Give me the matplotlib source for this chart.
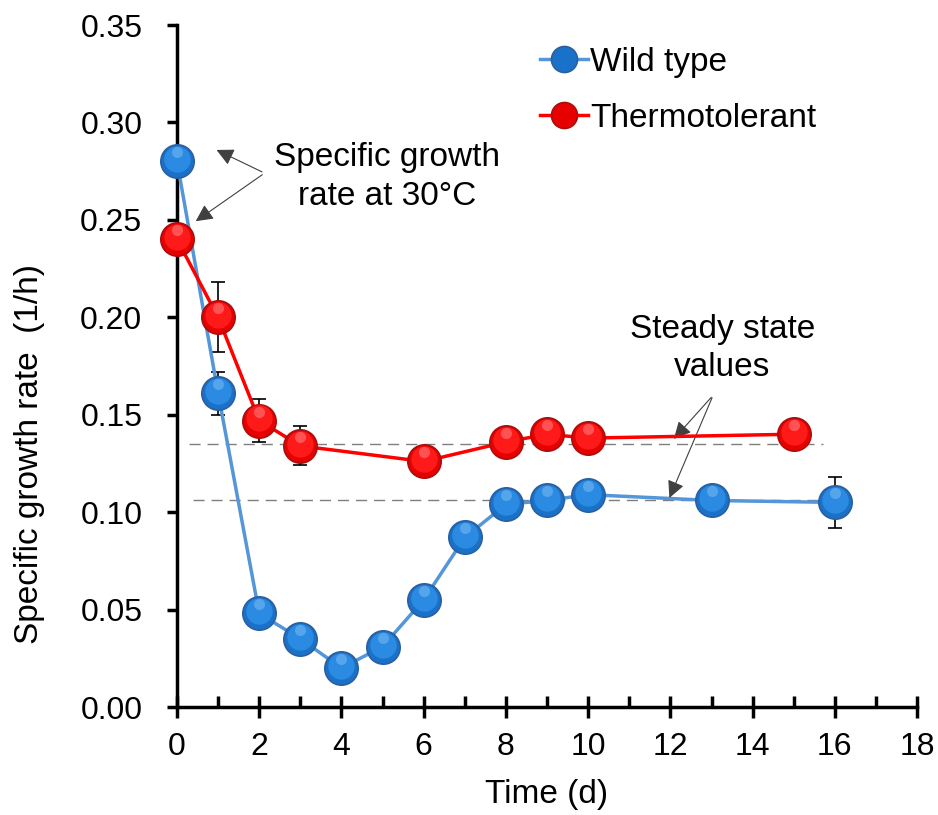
import matplotlib.pyplot as plt
from matplotlib.ticker import MultipleLocator
from matplotlib.transforms import offset_copy

plt.rcParams['font.family'] = ['Liberation Sans', 'DejaVu Sans']

# data
wt_time = [0, 1, 2, 3, 4, 5, 6, 7, 8, 9, 10, 13, 16]
wt_rate = [0.280, 0.161, 0.048, 0.035, 0.020, 0.031, 0.055, 0.087, 0.104, 0.106, 0.109, 0.106, 0.105]
wt_err = [0, 0.011, 0, 0, 0, 0, 0, 0, 0, 0, 0, 0, 0.013]

tt_time = [0, 1, 2, 3, 6, 8, 9, 10, 15]
tt_rate = [0.240, 0.200, 0.147, 0.134, 0.126, 0.136, 0.140, 0.138, 0.140]
tt_err = [0, 0.018, 0.011, 0.010, 0, 0, 0, 0, 0]

steady_tt = 0.135
steady_wt = 0.106

fig = plt.figure(figsize=(9.38, 8.15), dpi=100)
ax = fig.add_axes([0.1887, 0.1325, 0.789, 0.8368])

# steady state dashed lines
ax.plot([0.3, 15.7], [steady_tt, steady_tt], ls=(0, (8, 5)), color='#7f7f7f', lw=1, zorder=1)
ax.plot([0.4, 16.0], [steady_wt, steady_wt], ls=(0, (8, 5)), color='#7f7f7f', lw=1, zorder=1)

ax.errorbar(wt_time, wt_rate, yerr=wt_err, fmt='none', ecolor='black', elinewidth=1.2,
            capsize=5, capthick=1.2, zorder=2, clip_on=False)
ax.errorbar(tt_time, tt_rate, yerr=tt_err, fmt='none', ecolor='black', elinewidth=1.2,
            capsize=5, capthick=1.2, zorder=2, clip_on=False)

ax.plot(wt_time, wt_rate, '-o', color='#5596d8', lw=2.5, ms=24, mfc='#1a72c8',
        mec='#2b5f9f', mew=1.2, label='Wild type', zorder=3, clip_on=False)
ax.plot(tt_time, tt_rate, '-o', color='#ff0000', lw=2.5, ms=24, mfc='#e60000',
        mec='#a80f0f', mew=1.2, label='Thermotolerant', zorder=5, clip_on=False)

# glossy look on the balls: lighter inner disc shifted up a bit
shine = offset_copy(ax.transData, fig=fig, x=0, y=1.5, units='points')
ax.plot(wt_time, wt_rate, 'o', ms=19, mfc='#2b8ae2', mec='none', transform=shine,
        zorder=3.5, clip_on=False)
ax.plot(tt_time, tt_rate, 'o', ms=19, mfc='#ff1a1a', mec='none', transform=shine,
        zorder=5.5, clip_on=False)
spot = offset_copy(ax.transData, fig=fig, x=0, y=6.5, units='points')
ax.plot(wt_time, wt_rate, 'o', ms=8, mfc='#8cc6f5', mec='none', alpha=0.45, transform=spot,
        zorder=3.6, clip_on=False)
ax.plot(tt_time, tt_rate, 'o', ms=8, mfc='#ff9a9a', mec='none', alpha=0.45, transform=spot,
        zorder=5.6, clip_on=False)

ax.set_xlim(0, 18)
ax.set_ylim(0, 0.35)
ax.xaxis.set_major_locator(MultipleLocator(2))
ax.xaxis.set_minor_locator(MultipleLocator(1))
ax.yaxis.set_major_locator(MultipleLocator(0.05))
ax.yaxis.set_major_formatter(plt.FuncFormatter(lambda v, p: f'{v:.2f}'))

for s in ['top', 'right']:
    ax.spines[s].set_visible(False)
for s in ['left', 'bottom']:
    ax.spines[s].set_linewidth(2.5)

ax.tick_params(axis='x', which='major', direction='inout', length=16, width=2.5, labelsize=23, pad=10)
ax.tick_params(axis='x', which='minor', direction='in', length=8, width=2.5)
ax.tick_params(axis='y', which='major', direction='out', length=7, width=2.5, labelsize=23, pad=18)

ax.set_xlabel('Time (d)', fontsize=24, labelpad=12)
ax.set_ylabel('Specific growth rate  (1/h)', fontsize=24)
ax.yaxis.set_label_coords(-0.178, 0.371)

leg = ax.legend(loc='upper left', bbox_to_anchor=(0.45, 1.012), frameon=False, fontsize=24,
                handlelength=1.45, markerscale=0.78, handletextpad=0.05, labelspacing=0.75)

arrow = dict(arrowstyle='-|>', color='#404040', lw=0.8, mutation_scale=26)
ax.text(5.1, 0.272, 'Specific growth\nrate at 30°C', fontsize=24, ha='center', va='center',
        linespacing=1.3)
ax.annotate('', xy=(0.9, 0.2865), xytext=(2.13, 0.274), arrowprops=arrow)
ax.annotate('', xy=(0.4, 0.2485), xytext=(2.13, 0.274), arrowprops=arrow)

ax.text(13.26, 0.184, 'Steady state\nvalues', fontsize=24, ha='center', va='center',
        linespacing=1.3)
ax.annotate('', xy=(12.04, 0.1365), xytext=(13.04, 0.160), arrowprops=arrow)
ax.annotate('', xy=(11.95, 0.106), xytext=(13.04, 0.160), arrowprops=arrow)

fig.savefig('out.png', dpi=100)
